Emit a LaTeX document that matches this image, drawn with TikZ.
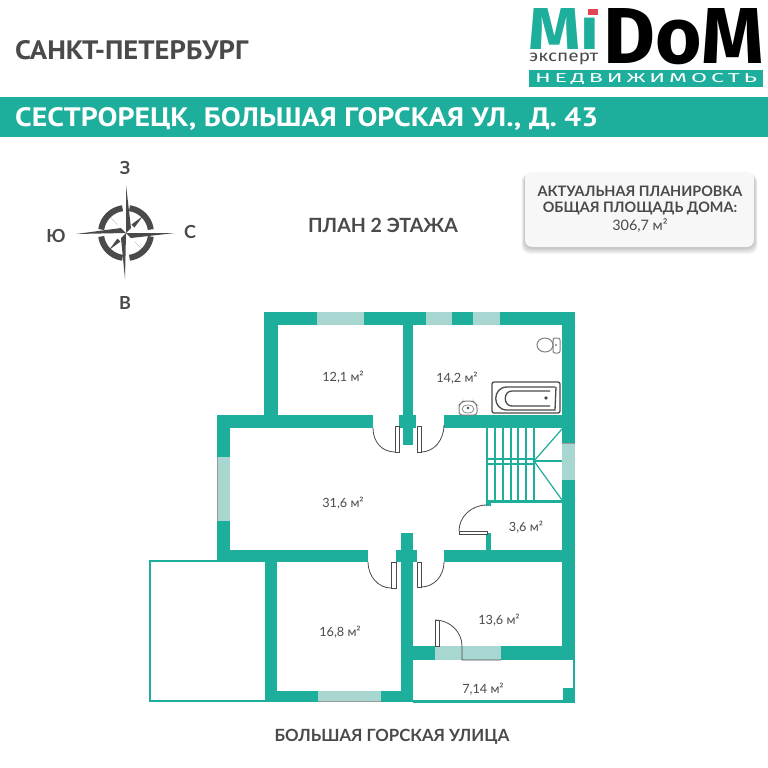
\documentclass[tikz,border=0pt]{standalone}
\usepackage{fontspec}
\setmainfont{Lato}
\newfontfamily\headfont{PT Sans}
\newfontfamily\logofont{Fira Sans}
\definecolor{tealwall}{HTML}{1EAE9C}
\definecolor{tealglass}{HTML}{A8D6D0}
\definecolor{inkgray}{HTML}{4A4A4A}
\definecolor{logored}{HTML}{E2454F}
\tikzset{
	wall/.style = {fill = tealwall},
	glass/.style = {fill = tealglass},
	glassedge/.style = {draw = gray!80, line width = 1pt},
	doorline/.style = {draw = inkgray, line width = 0.8pt},
	stairline/.style = {draw = tealwall, line width = 1.2pt},
	fixture/.style = {draw = inkgray, line width = 1pt},
	roomlabel/.style = {text = inkgray, font = \fontsize{12.7}{13}\selectfont, inner sep = 0pt},
	caption/.style = {text = inkgray, inner sep = 0pt, font = \bfseries\fontsize{14.4}{15}\selectfont},
	compassletter/.style = {text = inkgray, inner sep = 0pt, font = \bfseries\fontsize{18}{19}\selectfont},
}
\begin{document}
\begin{tikzpicture}[x = 1pt, y = -1pt]

	\useasboundingbox[fill = white] (0,0) rectangle (768,768);

	% header
	\node[anchor = west, inner sep = 0pt, text = inkgray] (city) at (15,50)
		{\resizebox{233pt}{19pt}{\headfont\bfseries САНКТ-ПЕТЕРБУРГ}};
	\fill[wall] (0,97) rectangle (768,137);
	\node[anchor = west, inner sep = 0pt, text = white] (address) at (15,119)
		{\resizebox{583pt}{19pt}{\headfont\bfseries СЕСТРОРЕЦК, БОЛЬШАЯ ГОРСКАЯ УЛ., Д. 43}};

	% logo
	\node[anchor = north west, inner sep = 0pt, text = tealwall] (logomi) at (528,8)
		{\resizebox{71pt}{41pt}{\logofont\bfseries Mı}};
	\fill[logored] (588,9) rectangle (598,15);
	\node[anchor = north west, inner sep = 0pt, text = black] (logodom) at (603,8)
		{\resizebox{161pt}{55pt}{\logofont\bfseries DoM}};
	\node[anchor = north west, inner sep = 0pt, text = inkgray] (logoexp) at (529,53)
		{\resizebox{69pt}{8.5pt}{\logofont эксперт}};
	\fill[wall] (529,70) rectangle (763,87);
	\node[inner sep = 0pt, text = white] (logoest) at (646,78.5)
		{\resizebox{222pt}{9pt}{\logofont Н\,Е\,Д\,В\,И\,Ж\,И\,М\,О\,С\,Т\,Ь}};

	% compass
	\foreach \a/\b in {8/82, 98/172, 188/262, 278/352}
		\draw[inkgray, line width = 6pt, samples = 20, domain = \a:\b, variable = \x]
			plot ({126+25*cos(\x)},{233+25*sin(\x)});
	\foreach \p/\q/\r/\s in {143/216/133/226, 109/250/119/240, 143/250/136/243, 109/216/116/223}
		\fill[inkgray] (\p,\q) -- (\r-1.5,\s-1.5) -- (\r+1.5,\s+1.5) -- cycle;
	\fill[white] (126,233) circle (9);
	\fill[inkgray] (126,185) -- (131,228) -- (126,233) -- cycle;
	\fill[inkgray] (175,233) -- (131,238) -- (126,233) -- cycle;
	\fill[inkgray] (125,279) -- (121,238) -- (126,233) -- cycle;
	\fill[inkgray] (76,234) -- (121,228) -- (126,233) -- cycle;
	\node[compassletter] (north) at (125,168) {З};
	\node[compassletter] (east) at (190,232) {С};
	\node[compassletter] (south) at (125,303) {В};
	\node[compassletter] (west) at (56,236) {Ю};

	% area card
	\foreach \d in {0,1,...,7}
		\fill[black, opacity = 0.035, rounded corners = 8pt] (525-\d/2,174) rectangle (754+\d/2,247+\d);
	\fill[white!97!black, rounded corners = 7pt] (525,172) rectangle (754,247);
	\node[caption] (cardone) at (640,191) {АКТУАЛЬНАЯ ПЛАНИРОВКА};
	\node[caption] (cardtwo) at (640,208) {ОБЩАЯ ПЛОЩАДЬ ДОМА:};
	\node[caption, font = \fontsize{14.4}{15}\selectfont] (cardthree) at (640,226) {306,7 м²};

	\node[caption, font = \bfseries\fontsize{19.6}{20}\selectfont] (plantitle) at (383,225) {ПЛАН 2 ЭТАЖА};

	% walls
	\foreach \xa/\ya/\xb/\yb in {
		264/312/575/325, 264/312/278/415, 403/325/413/415, 399/415/416/428,
		403/428/413/445, 217/415/373/428, 444/415/575/428, 217/415/230/562,
		217/550/368/562, 265/562/277/702, 265/691/413/702, 401/533/413/702,
		396/550/417/562, 444/550/575/562, 562/312/575/660, 413/646/575/660,
		563/688/575/703, 486/533/491/550, 486/500/491/506, 486/500/575/503,
		413/700/575/702.5, 573/660/575/703}
		\fill[wall] (\xa,\ya) rectangle (\xb,\yb);
	\draw[tealwall, line width = 2pt] (218,561) -- (150,561) -- (150,701) -- (266,701);

	% windows
	\foreach \xa/\ya/\xb/\yb in {
		317/312/364/325, 426/312/452/325, 473/312/500/325, 217/457/230/521,
		318/691/381/702, 562/443/575/480, 435/646/501/660}
		\fill[glass] (\xa,\ya) rectangle (\xb,\yb);
	\draw[glassedge] (217.5,457) -- (217.5,521);
	\draw[glassedge] (318,701.5) -- (381,701.5);
	\draw[glassedge] (562,443.5) -- (575,443.5);

	% doors
	\foreach \xa/\ya/\xb/\yb in {395/426/399/452, 417/426/421/452, 391/562/396/588,
		417/562/421/587, 435/620/439/646, 459/531/487/534}
		\draw[doorline, fill = white] (\xa,\ya) rectangle (\xb,\yb);
	\draw[doorline] (373,428) .. controls (373,442) and (382,452) .. (395,452);
	\draw[doorline] (444,425) .. controls (444,440) and (434,452) .. (421,452);
	\draw[doorline] (368,562) .. controls (368,576) and (378,588) .. (391,588);
	\draw[doorline] (444,562) .. controls (444,576) and (434,587) .. (421,587);
	\draw[doorline] (435,620) .. controls (450,620) and (462,632) .. (462,646) -- (462,660) -- (501,660);
	\draw[doorline] (459,531) .. controls (459,517) and (471,505) .. (487,505);

	% stairs
	\foreach \x in {487,495,503,511,518,526,534}
		\draw[stairline] (\x,428) -- (\x,500);
	\draw[stairline] (487,459) -- (534,459);
	\draw[stairline] (487,464) -- (534,464);
	\draw[stairline] (534,461) -- (562,429);
	\draw[stairline] (534,461) -- (562,500);
	\draw[stairline] (534,461) -- (562,461);

	% bath, toilet, sink
	\draw[fixture, line width = 1.3pt, rounded corners = 2pt] (492,382) rectangle (560,413);
	\draw[fixture, line width = 1.3pt] (555,387) -- (507,387) .. controls (492,387) and (492,410) .. (507,410) -- (555,410) -- (556,387);
	\draw[fixture, line width = 1.3pt] (550,391) -- (512,391) .. controls (503,391) and (503,406) .. (512,406) -- (550,406);
	\fill[inkgray] (546,398) circle (1.8);
	\draw[fixture, draw = gray] (545,345) ellipse (8 and 7);
	\draw[fixture, draw = gray, rounded corners = 2pt] (553,338) rectangle (560,353);
	\fill[gray] (556,345) circle (1.2);
	\draw[fixture, draw = gray, rounded corners = 3pt] (459,415) -- (459,405) -- (463,401) -- (473,401) -- (477,405) -- (477,415) -- cycle;
	\draw[fixture, draw = gray, line width = 0.7pt] (468,409) ellipse (6 and 4);
	\fill[inkgray] (468,408) circle (1.3);

	% areas
	\node[roomlabel] (roomA) at (343,377) {12,1 м²};
	\node[roomlabel] (roomB) at (457,378) {14,2 м²};
	\node[roomlabel] (roomC) at (343,503) {31,6 м²};
	\node[roomlabel] (roomD) at (526,527) {3,6 м²};
	\node[roomlabel] (roomE) at (499,620) {13,6 м²};
	\node[roomlabel] (roomF) at (340,632) {16,8 м²};
	\node[roomlabel] (roomG) at (483,689) {7,14 м²};

	\node[caption, font = \bfseries\fontsize{16.8}{17}\selectfont] (street) at (392,737) {БОЛЬШАЯ ГОРСКАЯ УЛИЦА};

\end{tikzpicture}
\end{document}
